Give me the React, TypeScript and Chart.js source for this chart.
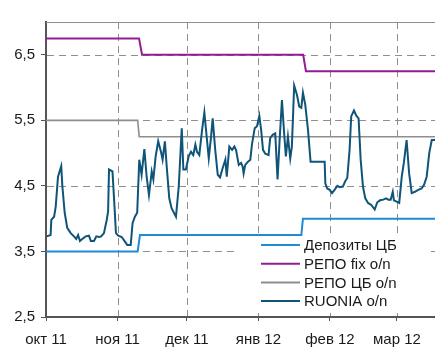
import { useEffect, useRef } from "react";
import { Chart, registerables } from "chart.js";

Chart.register(...registerables);

// Day offsets are counted from 1 Oct 2011.
const monthTickDays = [0, 31, 61, 92, 123, 152];
const monthTickLabels = ["окт 11", "ноя 11", "дек 11", "янв 12", "фев 12", "мар 12"];
const lastDay = 168.5;

const yTicks = [2.5, 3.5, 4.5, 5.5, 6.5];
const yMin = 2.5;
const yMax = 7.0;

// Stepped policy rates: vertices of each step line (day, %).
const depositDays = [0, 39.7, 40.7, 110.6, 111.3, 168.5];
const depositRates = [3.5, 3.5, 3.75, 3.75, 4.0, 4.0];

const repoFixDays = [0, 40.3, 41.6, 111.4, 112.6, 168.5];
const repoFixRates = [6.75, 6.75, 6.5, 6.5, 6.25, 6.25];

const repoCbDays = [0, 39.7, 40.4, 168.5];
const repoCbRates = [5.5, 5.5, 5.25, 5.25];

// RUONIA overnight rate.
const ruoniaDays = [
  0.3, 2.0, 2.3, 3.5, 4.2, 5.2, 6.6, 7.1, 8.1, 9.2,
  10.7, 12.1, 13.1, 13.9, 14.7, 15.7, 17.2, 18.6, 19.4, 20.8,
  21.8, 23.0, 23.9, 25.1, 26.3, 26.9, 27.3, 28.8, 29.5, 30.3,
  31.3, 32.8, 34.2, 35.2, 36.7, 37.5, 38.5, 39.5, 40.4, 41.4,
  42.6, 43.6, 44.6, 45.8, 46.5, 47.5, 48.6, 49.8, 50.5, 51.5,
  52.3, 53.4, 54.4, 56.3, 57.5, 58.8, 59.5, 60.6, 61.8, 62.8,
  63.8, 64.7, 65.4, 66.4, 67.6, 68.6, 69.6, 70.5, 71.5, 72.2,
  73.3, 74.4, 75.4, 76.5, 77.7, 78.3, 79.4, 80.6, 81.6, 82.3,
  83.5, 84.5, 85.2, 85.6, 86.3, 87.5, 88.5, 89.2, 90.4, 91.4,
  92.4, 93.2, 94.0, 95.0, 96.4, 97.1, 98.2, 99.3, 100.3, 101.2,
  102.2, 103.2, 103.9, 104.8, 105.8, 106.5, 107.5, 108.7, 109.7, 110.6,
  111.3, 112.3, 113.5, 114.6, 120.7, 121.0, 121.8, 122.9, 123.9, 125.0,
  126.2, 127.2, 128.6, 129.6, 130.5, 131.5, 132.2, 133.4, 134.4, 135.4,
  136.3, 137.3, 138.3, 139.5, 140.9, 142.4, 143.5, 144.7, 146.1, 147.3,
  148.3, 149.3, 150.2, 150.7, 151.9, 153.0, 154.1, 155.0, 156.2, 157.3,
  158.4, 159.8, 161.2, 162.7, 163.8, 164.9, 166.0, 167.1, 168.5,
];
const ruoniaRates = [
  3.73, 3.75, 3.98, 4.03, 4.18, 4.64, 4.80, 4.49, 4.09, 3.86,
  3.78, 3.73, 3.69, 3.75, 3.66, 3.69, 3.73, 3.74, 3.66, 3.66,
  3.73, 3.72, 3.73, 3.78, 3.98, 4.11, 4.75, 4.72, 4.29, 3.78,
  3.74, 3.72, 3.65, 3.60, 3.60, 3.93, 4.03, 4.09, 4.90, 4.67,
  5.06, 4.64, 4.36, 4.72, 4.60, 4.95, 5.18, 5.02, 4.90, 5.18,
  4.79, 4.31, 4.16, 4.03, 4.49, 5.38, 4.75, 4.75, 4.95, 5.02,
  4.97, 5.13, 5.02, 4.97, 5.35, 5.62, 5.25, 4.92, 5.25, 5.53,
  5.05, 4.67, 4.63, 4.77, 4.90, 4.64, 5.10, 5.05, 5.10, 5.05,
  4.82, 4.85, 4.79, 4.69, 4.82, 4.87, 4.90, 5.13, 5.38, 5.41,
  5.57, 5.35, 5.05, 4.99, 4.97, 5.23, 5.28, 5.30, 4.60, 5.20,
  5.81, 5.28, 4.95, 5.25, 4.92, 5.10, 6.03, 5.89, 5.71, 5.69,
  5.92, 5.74, 5.35, 4.87, 4.87, 4.54, 4.46, 4.44, 4.39, 4.44,
  4.50, 4.48, 4.49, 4.57, 4.62, 5.05, 5.56, 5.65, 5.57, 5.53,
  4.90, 4.49, 4.31, 4.24, 4.21, 4.14, 4.25, 4.28, 4.29, 4.31,
  4.29, 4.29, 4.41, 4.28, 4.26, 4.24, 4.64, 4.85, 5.20, 4.69,
  4.39, 4.41, 4.44, 4.46, 4.52, 4.64, 5.00, 5.20, 5.20,
];

const seriesNames = ["Депозиты ЦБ", "РЕПО fix o/n", "РЕПО ЦБ o/n", "RUONIA o/n"];
const seriesColors = ["#1f8ad6", "#931c94", "#8e8e8e", "#0f5479"];

const FONT = "'Liberation Sans', Arial, sans-serif";
const TEXT_COLOR = "#1a1a1a";
const AXIS_COLOR = "#555555";
const GRID_COLOR = "#8f8f8f";

const toPoints = (days: number[], vals: number[]) =>
  days.map((d, i) => ({ x: d, y: vals[i] }));

// Dashed grid at every tick plus a solid frame line along the top.
const gridPlugin = {
  id: "dashedGrid",
  beforeDatasetsDraw(chart: any) {
    const { ctx, chartArea, scales } = chart;
    const { left, right, top, bottom } = chartArea;
    ctx.save();
    ctx.strokeStyle = GRID_COLOR;
    ctx.lineWidth = 1;
    ctx.setLineDash([7, 5]);
    monthTickDays.forEach((d) => {
      const x = Math.round(scales.x.getPixelForValue(d)) + 0.5;
      if (x <= left + 2) return;
      ctx.beginPath();
      ctx.moveTo(x, top);
      ctx.lineTo(x, bottom - 1);
      ctx.stroke();
    });
    yTicks.forEach((v) => {
      const y = Math.round(scales.y.getPixelForValue(v)) + 0.5;
      if (y >= bottom - 2) return;
      ctx.beginPath();
      ctx.moveTo(left + 1, y);
      ctx.lineTo(right, y);
      ctx.stroke();
    });
    ctx.setLineDash([]);
    ctx.beginPath();
    ctx.moveTo(left, top + 0.5);
    ctx.lineTo(right, top + 0.5);
    ctx.stroke();
    ctx.restore();
  },
};

// Legend drawn inside the plot, lower right, on a white panel.
const innerLegendPlugin = {
  id: "innerLegend",
  afterDatasetsDraw(chart: any) {
    const { ctx, chartArea } = chart;
    const left = chartArea.right - 199;
    const top = chartArea.bottom - 80;
    const rowTop = chartArea.bottom - 72;
    const rowGap = 18.7;
    ctx.save();
    ctx.fillStyle = "#ffffff";
    ctx.fillRect(left, top, 192, 76);
    chart.data.datasets.forEach((ds: any, i: number) => {
      const y = rowTop + i * rowGap;
      ctx.strokeStyle = ds.borderColor;
      ctx.lineWidth = 2;
      ctx.beginPath();
      ctx.moveTo(left + 25, y);
      ctx.lineTo(left + 64, y);
      ctx.stroke();
      ctx.fillStyle = TEXT_COLOR;
      ctx.font = `15px ${FONT}`;
      ctx.textAlign = "left";
      ctx.textBaseline = "middle";
      ctx.fillText(ds.label, left + 68, y + 1);
    });
    ctx.restore();
  },
};

export default function App() {
  const canvasRef = useRef<HTMLCanvasElement | null>(null);

  useEffect(() => {
    const canvas = canvasRef.current;
    if (!canvas) return;

    const lineStyle = (i: number, width: number, order: number) => ({
      label: seriesNames[i],
      borderColor: seriesColors[i],
      backgroundColor: seriesColors[i],
      borderWidth: width,
      pointRadius: 0,
      tension: 0,
      fill: false,
      order,
    });

    const axisGrid = (tickLength: number) => ({
      display: true,
      drawOnChartArea: false,
      drawTicks: true,
      tickLength,
      tickColor: AXIS_COLOR,
      tickWidth: 1,
      color: GRID_COLOR,
    });

    const chart = new Chart(canvas, {
      type: "line",
      data: {
        datasets: [
          { ...lineStyle(0, 2, 3), data: toPoints(depositDays, depositRates) },
          { ...lineStyle(1, 2, 2), data: toPoints(repoFixDays, repoFixRates) },
          { ...lineStyle(2, 1.6, 4), data: toPoints(repoCbDays, repoCbRates) },
          { ...lineStyle(3, 2, 1), data: toPoints(ruoniaDays, ruoniaRates) },
        ],
      },
      options: {
        responsive: false,
        animation: false,
        layout: { padding: { top: 22, left: 0, right: 0, bottom: 0 } },
        plugins: {
          legend: { display: false },
          tooltip: { enabled: false },
        },
        scales: {
          x: {
            type: "linear",
            min: 0,
            max: lastDay,
            afterBuildTicks: (axis: any) => {
              axis.ticks = monthTickDays.map((v) => ({ value: v }));
            },
            afterFit: (axis: any) => {
              axis.height = 30;
            },
            ticks: {
              autoSkip: false,
              maxRotation: 0,
              padding: 10,
              color: TEXT_COLOR,
              font: { family: FONT, size: 15 },
              callback: (_v: any, index: number) => monthTickLabels[index],
            },
            grid: axisGrid(4),
            border: { display: true, color: AXIS_COLOR, width: 2 },
          },
          y: {
            type: "linear",
            min: yMin,
            max: yMax,
            afterBuildTicks: (axis: any) => {
              axis.ticks = yTicks.map((v) => ({ value: v }));
            },
            afterFit: (axis: any) => {
              axis.width = 46;
            },
            ticks: {
              padding: 6,
              color: TEXT_COLOR,
              font: { family: FONT, size: 15 },
              callback: (v: any) => Number(v).toFixed(1).replace(".", ","),
            },
            grid: axisGrid(5),
            border: { display: true, color: AXIS_COLOR, width: 2 },
          },
        },
      } as any,
      plugins: [gridPlugin, innerLegendPlugin],
    });

    return () => chart.destroy();
  }, []);

  return (
    <div style={{ position: "absolute", left: 0, top: 0, width: 435, height: 347, background: "#ffffff" }}>
      <canvas ref={canvasRef} width={435} height={347} />
    </div>
  );
}
